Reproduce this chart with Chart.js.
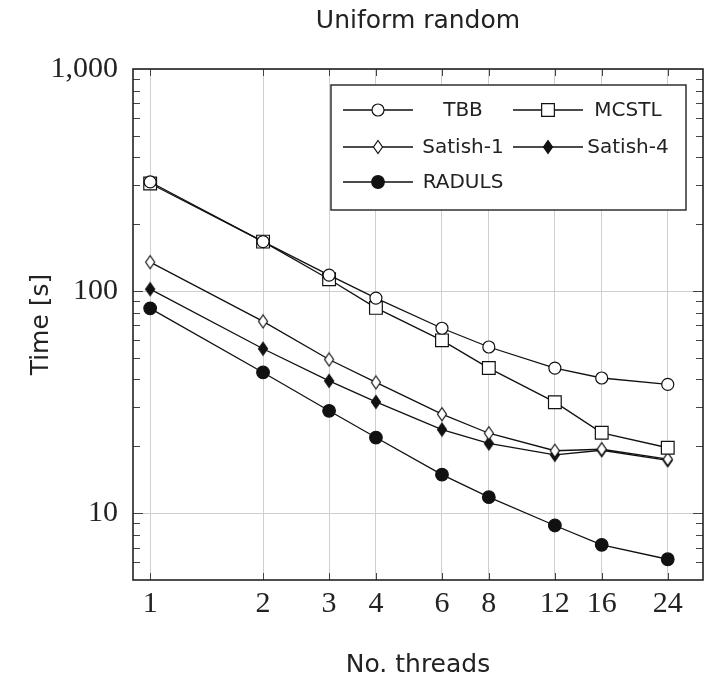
<!DOCTYPE html>
<html>
<head>
<meta charset="utf-8">
<title>Uniform random</title>
<script src="https://cdn.jsdelivr.net/npm/chart.js@4.4.1/dist/chart.umd.min.js"></script>
<style>
  html, body { margin: 0; padding: 0; background: #fff; }
  #caja { width: 715px; height: 679px; }
</style>
</head>
<body>
<div id="caja"><canvas id="grafico"></canvas></div>
<script>
/* datos leídos a ojo del gráfico original (escala log-log) */
var HILOS = [1, 2, 3, 4, 6, 8, 12, 16, 24];
var TBB = [310, 167, 118, 93, 68, 56, 45, 40.6, 38];
var MCSTL = [305, 167, 113, 84, 60, 45, 31.6, 23, 19.7];
var SATISH_1 = [135, 73, 49.2, 38.8, 27.9, 22.9, 19.1, 19.4, 17.5];
var SATISH_4 = [102, 55, 39.4, 31.7, 23.8, 20.6, 18.3, 19.2, 17.3];
var RADULS = [83.6, 43, 28.9, 21.9, 14.9, 11.8, 8.8, 7.2, 6.2];
var TICKS_Y = [10, 100, 1000];
var TITULO = 'Uniform random';
var TITULO_X = 'No. threads';
var TITULO_Y = 'Time [s]';

var SANS = '"DejaVu Sans", sans-serif';
var SERIF = '"Liberation Serif", serif';
var NEGRO = '#111111';
var GRILLA = '#cfcfcf';

/* rombo alargado (el de pgfplots), como imagen para pointStyle */
function rombo(relleno) {
  var c = document.createElement('canvas');
  c.width = 12; c.height = 16;
  var g = c.getContext('2d');
  g.beginPath();
  g.moveTo(6, 1.5); g.lineTo(10.5, 8); g.lineTo(6, 14.5); g.lineTo(1.5, 8);
  g.closePath();
  g.fillStyle = relleno;
  g.fill();
  g.lineWidth = 1.2;
  g.strokeStyle = NEGRO;
  g.stroke();
  return c;
}

function serie(nombre, valores, estilo, radio, relleno) {
  return {
    label: nombre,
    data: valores.map(function (v, i) { return { x: HILOS[i], y: v }; }),
    borderColor: NEGRO,
    borderWidth: 1.3,
    pointStyle: estilo,
    pointRadius: radio,
    pointBorderWidth: 1.2,
    pointBorderColor: NEGRO,
    pointBackgroundColor: relleno,
    fill: false,
    tension: 0
  };
}

var series = [
  serie('TBB', TBB, 'circle', 6, '#ffffff'),
  serie('MCSTL', MCSTL, 'rect', 9, '#ffffff'),
  serie('Satish-1', SATISH_1, rombo('#ffffff'), 6, '#ffffff'),
  serie('Satish-4', SATISH_4, rombo(NEGRO), 6, NEGRO),
  serie('RADULS', RADULS, 'circle', 6.3, NEGRO)
];

/* marco, marcas menores, título y leyenda al estilo pgfplots */
var decorado = {
  id: 'decorado',
  beforeDatasetsDraw: function (chart) {
    var ctx = chart.ctx, a = chart.chartArea;
    var sx = chart.scales.x, sy = chart.scales.y;
    ctx.save();
    ctx.strokeStyle = '#444';
    ctx.lineWidth = 1;
    ctx.beginPath();
    HILOS.forEach(function (h) {
      var px = Math.round(sx.getPixelForValue(h)) + 0.5;
      ctx.moveTo(px, a.bottom); ctx.lineTo(px, a.bottom - 7);
      ctx.moveTo(px, a.top); ctx.lineTo(px, a.top + 7);
    });
    for (var k = 0; k < 4; k++) {
      for (var m = 1; m < 10; m++) {
        var v = m * Math.pow(10, k);
        if (v <= sy.min || v >= sy.max) { continue; }
        var py = Math.round(sy.getPixelForValue(v)) + 0.5;
        var largo = m === 1 ? 10 : 7;
        ctx.moveTo(a.left, py); ctx.lineTo(a.left + largo, py);
        ctx.moveTo(a.right, py); ctx.lineTo(a.right - largo, py);
      }
    }
    ctx.stroke();
    ctx.restore();
  },
  afterDatasetsDraw: function (chart) {
    var ctx = chart.ctx, a = chart.chartArea;
    ctx.save();
    /* marco */
    ctx.strokeStyle = '#222';
    ctx.lineWidth = 1.6;
    ctx.strokeRect(a.left, a.top, a.right - a.left, a.bottom - a.top);

    /* título */
    ctx.fillStyle = '#222';
    ctx.font = '25px ' + SANS;
    ctx.textAlign = 'center';
    ctx.textBaseline = 'middle';
    ctx.fillText(TITULO, (a.left + a.right) / 2, 21);

    /* leyenda: 2 columnas */
    var bx = a.right - 372, by = a.top + 16, bw = 355, bh = 125;
    ctx.fillStyle = '#fff';
    ctx.fillRect(bx, by, bw, bh);
    ctx.lineWidth = 1.4;
    ctx.strokeStyle = '#222';
    ctx.strokeRect(bx, by, bw, bh);
    var filas = [25, 62, 97];
    var columnas = [{ linea: 12, texto: 132 }, { linea: 182, texto: 297 }];
    ctx.font = '20px ' + SANS;
    chart.data.datasets.forEach(function (ds, i) {
      var col = columnas[i % 2], fy = by + filas[Math.floor(i / 2)];
      var x0 = bx + col.linea;
      ctx.strokeStyle = NEGRO;
      ctx.lineWidth = 1.3;
      ctx.beginPath();
      ctx.moveTo(x0, fy); ctx.lineTo(x0 + 70, fy);
      ctx.stroke();
      ctx.fillStyle = ds.pointBackgroundColor;
      ctx.strokeStyle = NEGRO;
      ctx.lineWidth = ds.pointBorderWidth;
      Chart.helpers.drawPoint(ctx, {
        pointStyle: ds.pointStyle, radius: ds.pointRadius,
        borderWidth: ds.pointBorderWidth, rotation: 0
      }, x0 + 35, fy);
      ctx.fillStyle = '#222';
      ctx.textAlign = 'center';
      ctx.fillText(ds.label, bx + col.texto, fy + 1);
    });
    ctx.restore();
  }
};

new Chart(document.getElementById('grafico'), {
  type: 'line',
  data: { datasets: series },
  plugins: [decorado],
  options: {
    responsive: true,
    maintainAspectRatio: false,
    animation: false,
    events: [],
    layout: { padding: { left: 0, right: 12, top: 69, bottom: 0 } },
    plugins: {
      legend: { display: false },
      title: { display: false },
      tooltip: { enabled: false }
    },
    scales: {
      x: {
        type: 'logarithmic',
        min: 0.9,
        max: 29.8,
        afterBuildTicks: function (s) { s.ticks = HILOS.map(function (h) { return { value: h }; }); },
        afterFit: function (s) { s.height = 99; },
        ticks: {
          autoSkip: false, maxRotation: 0, padding: 6, color: '#222',
          font: { family: SERIF, size: 30 },
          callback: function (v) { return String(v); }
        },
        grid: { color: GRILLA, lineWidth: 1, drawTicks: false },
        border: { display: false },
        title: {
          display: true, text: TITULO_X, color: '#222',
          font: { family: SANS, size: 25, lineHeight: 1 }, padding: { top: 0, bottom: 1 }
        }
      },
      y: {
        type: 'logarithmic',
        min: 5,
        max: 1000,
        afterBuildTicks: function (s) { s.ticks = TICKS_Y.map(function (v) { return { value: v }; }); },
        afterFit: function (s) { s.width = 133; },
        ticks: {
          padding: 15, color: '#222',
          font: { family: SERIF, size: 30 },
          callback: function (v) { return Number(v).toLocaleString('en-US'); }
        },
        grid: { color: GRILLA, lineWidth: 1, drawTicks: false },
        border: { display: false },
        title: {
          display: true, text: TITULO_Y, color: '#222',
          font: { family: SANS, size: 25, lineHeight: 1 }, padding: { top: 29, bottom: 0 }
        }
      }
    }
  }
});
</script>
</body>
</html>
